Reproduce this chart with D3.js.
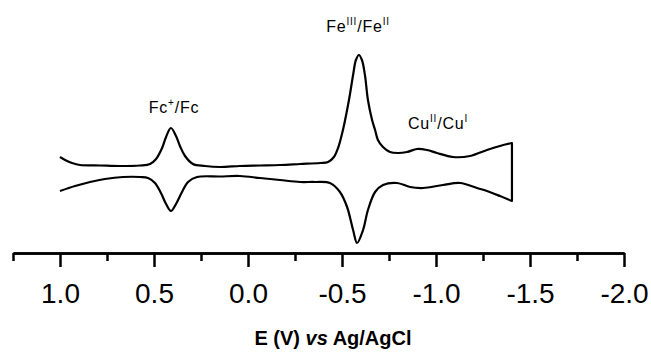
<!DOCTYPE html>
<html>
<head>
<meta charset="utf-8">
<script src="https://cdn.jsdelivr.net/npm/d3@7"></script>
<style>
  html, body { margin: 0; padding: 0; background: #fff; }
  svg { display: block; }
  text { font-family: "Liberation Sans", Arial, sans-serif; fill: #000; }
</style>
</head>
<body>
<svg id="chart" width="651" height="353"></svg>
<script>
// Potential axis ticks
const majorTicks = [1.0, 0.5, 0.0, -0.5, -1.0, -1.5, -2.0];
const tickLabels = ["1.0", "0.5", "0.0", "-0.5", "-1.0", "-1.5", "-2.0"];
const minorTicks = [1.25, 0.75, 0.25, -0.25, -0.75, -1.25, -1.75];

// Forward scan (upper trace): E (V) and current (arb. units)
const upperE = [1.00, 0.973, 0.936, 0.894, 0.787, 0.681, 0.574, 0.521, 0.489, 0.457, 0.436, 0.410,
  0.383, 0.362, 0.335, 0.293, 0.229, 0.149, 0.043, -0.064, -0.170, -0.277, -0.383, -0.426,
  -0.457, -0.479, -0.505, -0.537, -0.559, -0.574, -0.590, -0.606, -0.622, -0.638, -0.660,
  -0.676, -0.691, -0.718, -0.755, -0.798, -0.846, -0.899, -0.952, -1.005, -1.090, -1.181,
  -1.271, -1.340, -1.404];
const upperI = [4.3, 4.0, 3.7, 3.5, 3.45, 3.4, 3.45, 3.6, 4.1, 5.2, 6.3, 7.2,
  6.4, 5.4, 4.4, 3.6, 3.4, 3.3, 3.4, 3.45, 3.5, 3.6, 3.7, 3.8,
  4.3, 5.2, 7.0, 10.0, 12.5, 14.0, 14.5, 14.0, 12.5, 10.0, 8.0,
  7.0, 6.0, 5.3, 4.8, 4.7, 4.8, 5.1, 5.0, 4.7, 4.3, 4.4,
  5.0, 5.4, 5.7];

// Reverse scan (lower trace)
const lowerE = [-1.404, -1.340, -1.271, -1.218, -1.128, -1.037, -0.931, -0.862, -0.793, -0.718,
  -0.676, -0.638, -0.612, -0.580, -0.559, -0.527, -0.489, -0.436, -0.356, -0.277, -0.170,
  -0.064, 0.043, 0.149, 0.271, 0.319, 0.351, 0.383, 0.410, 0.436, 0.463, 0.495, 0.532,
  0.574, 0.665, 0.761, 0.840, 0.920, 1.000];
const lowerI = [-0.1, 0.4, 0.9, 1.2, 1.7, 1.5, 1.2, 1.3, 1.7, 1.5,
  0.8, -1.0, -3.0, -4.3, -3.0, -0.7, 0.8, 1.7, 1.8, 1.8, 2.0,
  2.2, 2.4, 2.35, 2.3, 1.8, 0.8, -0.4, -1.1, -0.4, 0.7, 1.7, 2.2,
  2.3, 2.3, 2.1, 1.8, 1.4, 0.9];

const svg = d3.select("#chart");
svg.append("rect").attr("width", 651).attr("height", 353).attr("fill", "#fff");

const x = d3.scaleLinear().domain([1.25, -2.0]).range([13, 624]);
const y = d3.scaleLinear().domain([0, 10]).range([200, 100]);

const line = d3.line().x(d => x(d[0])).y(d => y(d[1])).curve(d3.curveCatmullRom.alpha(0.5));

// Upper scan, plus the vertical switch to the start of the reverse scan
svg.append("path")
  .datum(upperE.map((e, i) => [e, upperI[i]]))
  .attr("d", line)
  .attr("fill", "none").attr("stroke", "#000").attr("stroke-width", 2.2)
  .attr("stroke-linejoin", "round");
svg.append("path")
  .datum([[upperE[upperE.length - 1], upperI[upperI.length - 1]], [lowerE[0], lowerI[0]]])
  .attr("d", d3.line().x(d => x(d[0])).y(d => y(d[1])))
  .attr("fill", "none").attr("stroke", "#000").attr("stroke-width", 2.2)
  .attr("stroke-linecap", "round");
svg.append("path")
  .datum(lowerE.map((e, i) => [e, lowerI[i]]))
  .attr("d", line)
  .attr("fill", "none").attr("stroke", "#000").attr("stroke-width", 2.2)
  .attr("stroke-linejoin", "round");

// Axis
const axisY = 253;
const gMinor = svg.append("g").attr("transform", `translate(0,${axisY})`)
  .call(d3.axisBottom(x).tickValues(minorTicks).tickSize(8).tickSizeOuter(0).tickFormat(""));
const gMajor = svg.append("g").attr("transform", `translate(0,${axisY})`)
  .call(d3.axisBottom(x).tickValues(majorTicks).tickSize(14).tickSizeOuter(0)
    .tickFormat((d, i) => tickLabels[i]).tickPadding(16));
[gMinor, gMajor].forEach(g => {
  g.selectAll("path.domain").attr("stroke", "#000").attr("stroke-width", 2.5);
  g.selectAll("line").attr("stroke", "#000").attr("stroke-width", 2.5);
});
gMajor.selectAll("text")
  .attr("font-family", "Liberation Sans, Arial, sans-serif")
  .attr("font-size", 28).attr("fill", "#000");

// Axis title
const title = svg.append("text").attr("x", 333).attr("y", 345)
  .attr("text-anchor", "middle").attr("font-size", 20).attr("font-weight", "bold");
title.append("tspan").text("E (V) ");
title.append("tspan").attr("font-style", "italic").text("vs");
title.append("tspan").text(" Ag/AgCl");

// Peak labels
function peakLabel(cx, by, parts) {
  const t = svg.append("text").attr("x", cx).attr("y", by)
    .attr("text-anchor", "middle").attr("font-size", 16).attr("letter-spacing", 0.8);
  parts.forEach(p => {
    if (p.sup) {
      t.append("tspan").attr("font-size", 10).attr("dy", -7).text(p.t);
    } else {
      const s = t.append("tspan").text(p.t);
      if (p.after) s.attr("dy", 7);
    }
  });
}
peakLabel(174, 113, [{t: "Fc"}, {t: "+", sup: true}, {t: "/Fc", after: true}]);
peakLabel(358, 32, [{t: "Fe"}, {t: "III", sup: true}, {t: "/Fe", after: true}, {t: "II", sup: true}]);
peakLabel(438, 129, [{t: "Cu"}, {t: "II", sup: true}, {t: "/Cu", after: true}, {t: "I", sup: true}]);
</script>
</body>
</html>
